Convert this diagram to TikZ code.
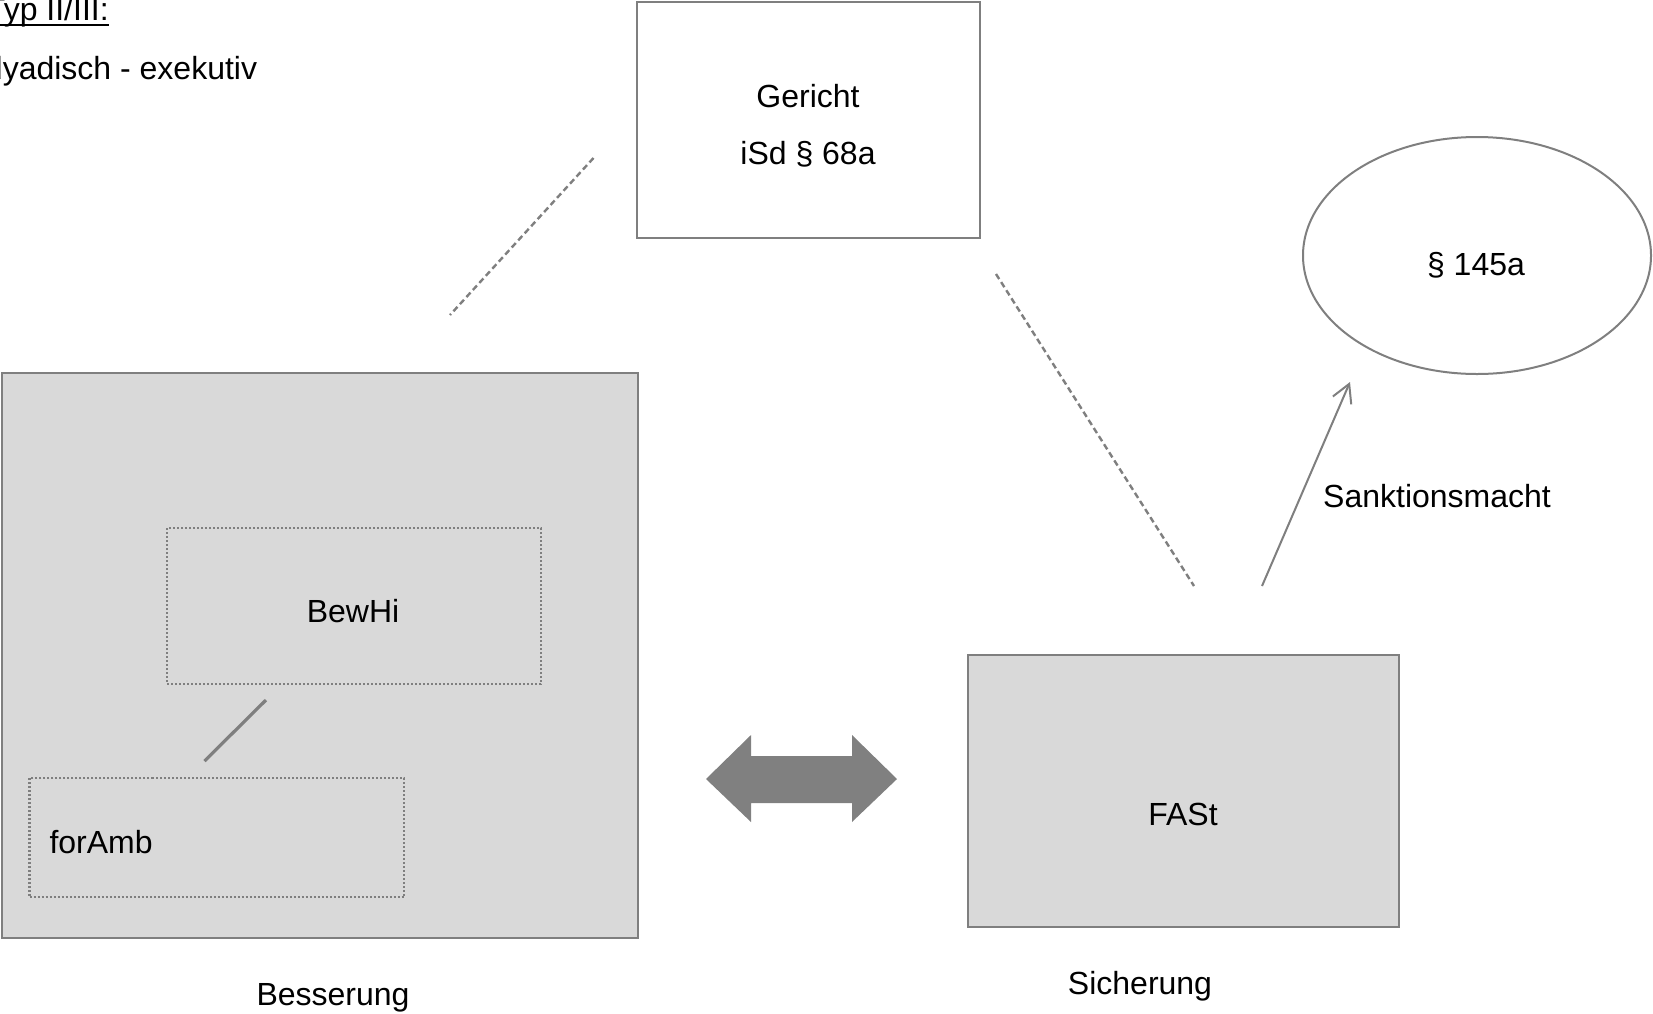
\documentclass[tikz,border=0pt]{standalone}
\usepackage{fontspec}
\setmainfont{Liberation Sans}
\usetikzlibrary{arrows.meta,shapes.geometric}
\definecolor{edgegray}{HTML}{7F7F7F}
\definecolor{boxfill}{HTML}{D9D9D9}
\definecolor{arrowgray}{HTML}{808080}
\begin{document}
\begin{tikzpicture}[x=0.5pt,y=-0.5pt,
  every node/.style={font=\fontsize{16pt}{19pt}\selectfont, inner sep=0pt, outer sep=0pt},
  plainbox/.style={draw=edgegray, line width=1.2pt, fill=white},
  greybox/.style={draw=edgegray, line width=1.2pt, fill=boxfill},
  dotbox/.style={draw=edgegray, line width=1.2pt, dash pattern=on 1pt off 1pt},
  oval/.style={ellipse, draw=edgegray, line width=1pt},
  txt/.style={anchor=base, text=black},
  dashlink/.style={draw=edgegray, line width=1.2pt, dash pattern=on 3pt off 1.8pt},
  solidlink/.style={draw=edgegray, line width=1.6pt},
  powerarrow/.style={draw=edgegray, line width=1pt, -{Straight Barb[length=9pt,width=10pt,line width=1pt]}}
]
\useasboundingbox (0,0) rectangle (1653,1013);

% heading
\node[anchor=base west] (typ) at (-14,20) {Typ II/III:};
\draw[line width=1.3pt] ([yshift=-2.5pt]typ.base west) -- ([yshift=-2.5pt]typ.base east);
\node[anchor=base west] (dyad) at (-15,79) {dyadisch - exekutiv};

% court
\node[plainbox, minimum width=171.5pt, minimum height=118pt] (gericht) at (808.5,120) {};
\node[txt] (gerichtA) at (808,107) {Gericht};
\node[txt] (gerichtB) at (808,164) {iSd § 68a};

% § 145a
\node[oval, minimum width=174pt, minimum height=118.5pt] (para) at (1477,255.5) {};
\node[txt] (paraT) at (1476,275) {§ 145a};

% left block: Besserung
\node[greybox, minimum width=318pt, minimum height=282.5pt] (bess) at (320,655.5) {};
\node[dotbox, minimum width=187pt, minimum height=78pt] (bewhi) at (354,606) {};
\node[txt] (bewhiT) at (353,622) {BewHi};
\node[dotbox, minimum width=187.25pt, minimum height=59.5pt] (foramb) at (216.75,837.5) {};
\node[anchor=base west] (forambT) at (49.5,853) {forAmb};
\node[txt] (bessT) at (333,1005) {Besserung};

% right block: Sicherung
\node[greybox, minimum width=215.5pt, minimum height=136pt] (fast) at (1183.5,791) {};
\node[txt] (fastT) at (1183,825) {FASt};
\node[txt] (sichT) at (1140,994) {Sicherung};

\node[txt] (sankT) at (1437,507) {Sanktionsmacht};

% connector end points
\coordinate (dl1) at (593.5,158);
\coordinate (dl2) at (450,315);
\coordinate (dr1) at (996,274);
\coordinate (dr2) at (1194,586);
\coordinate (s1) at (266,700);
\coordinate (s2) at (204.5,761);
\coordinate (a1) at (1262,586);
\coordinate (a2) at (1350,382);

\draw[dashlink] (dl1) -- (dl2);
\draw[dashlink] (dr1) -- (dr2);
\draw[solidlink] (s1) -- (s2);
\draw[powerarrow] (a1) -- (a2);

% exchange between both blocks
\fill[arrowgray] (706,779) -- (751,735) -- (751,756) -- (852,756) -- (852,735)
  -- (897,779) -- (852,822) -- (852,803) -- (751,803) -- (751,822) -- cycle;
\end{tikzpicture}
\end{document}
